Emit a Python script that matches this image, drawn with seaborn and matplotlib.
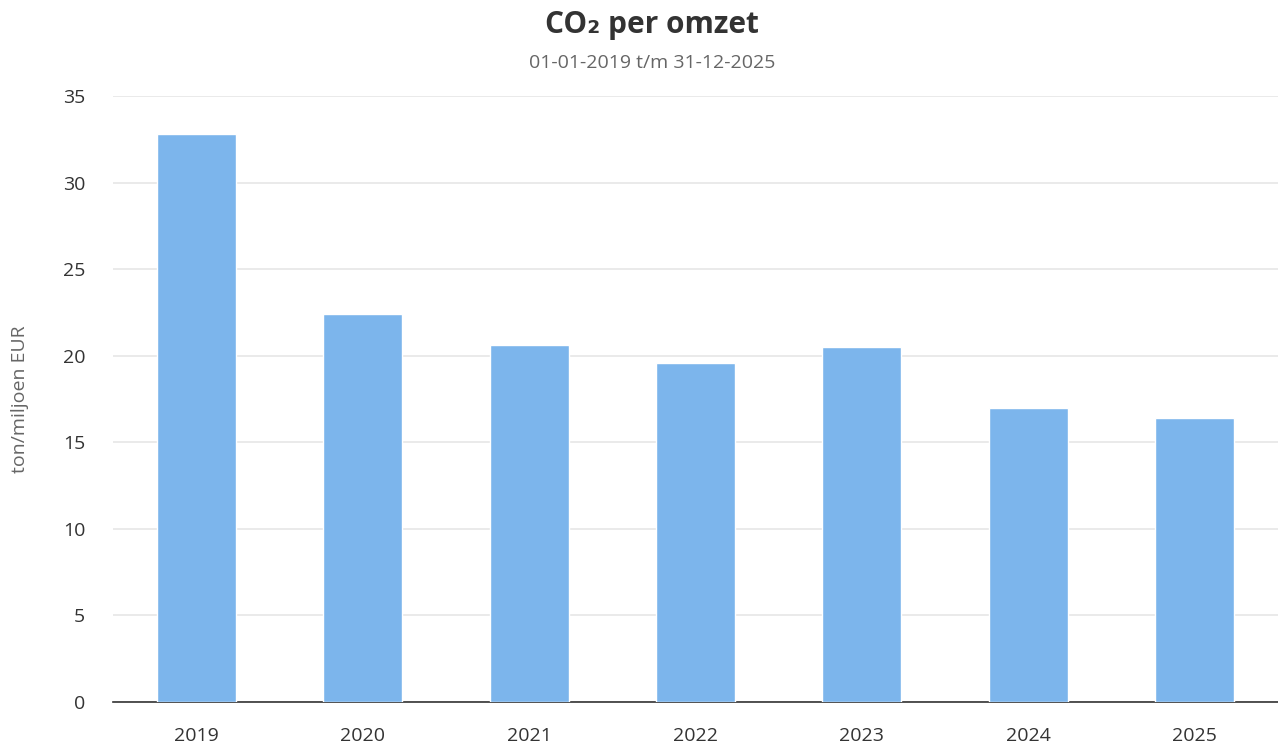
import pandas as pd
import matplotlib.pyplot as plt
import seaborn as sns

# ── Data ─────────────────────────────────────────────
years = ["2019", "2020", "2021", "2022", "2023", "2024", "2025"]
co2_per_omzet = [32.8, 22.4, 20.6, 19.6, 20.5, 17.0, 16.4]
yticks = [0, 5, 10, 15, 20, 25, 30, 35]

df = pd.DataFrame({"Jaar": years, "CO2": co2_per_omzet})

sns.set_style("white")
plt.rcParams["font.family"] = ["Open Sans", "DejaVu Sans"]

fig = plt.figure(figsize=(12.78, 7.47), dpi=100)
ax = fig.add_axes([0.0884, 0.0602, 0.9116, 0.8113])

sns.barplot(data=df, x="Jaar", y="CO2", color="#7cb5ec", saturation=1,
            width=0.475, edgecolor="white", linewidth=1, ax=ax, zorder=3)

ax.set_xlim(-0.5, 6.5)
ax.set_ylim(0, 35)
ax.set_yticks(yticks)
ax.yaxis.grid(True, color="#e6e6e6", linewidth=1.2, zorder=0)
ax.set_axisbelow(True)
for s in ["top", "right", "left"]:
    ax.spines[s].set_visible(False)
ax.spines["bottom"].set_color("#333333")
ax.spines["bottom"].set_linewidth(1.2)
ax.tick_params(axis="both", length=0, labelsize=14, colors="#333333")
ax.tick_params(axis="x", pad=18)
ax.tick_params(axis="y", pad=20)
ax.set_xlabel("")
ax.set_ylabel("ton/miljoen EUR", fontsize=14, color="#666666")
ax.yaxis.set_label_coords(-0.0798, 0.5)
ax.yaxis.label.set_va("center")

# titles are centred a little right of the figure middle
fig.text(0.5102, 0.966, "CO₂ per omzet", ha="center", va="center",
         fontsize=21.5, fontweight="bold", color="#333333")
fig.text(0.5102, 0.916, "01-01-2019 t/m 31-12-2025", ha="center", va="center",
         fontsize=14, color="#666666")

fig.savefig("out.png", dpi=100)
